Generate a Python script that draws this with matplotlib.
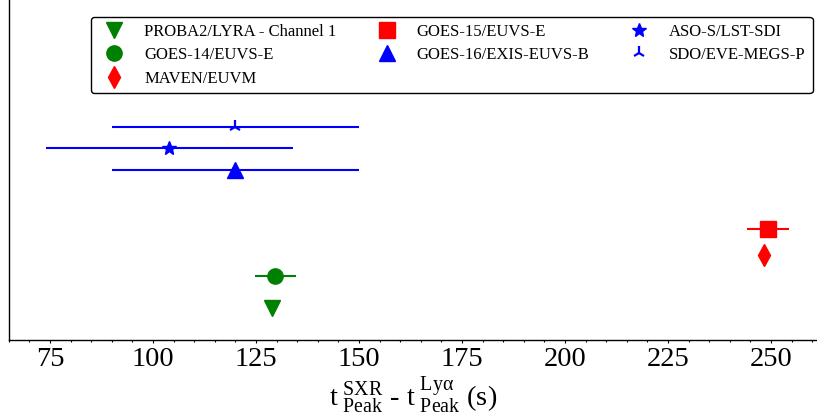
import matplotlib
matplotlib.use("Agg")
import matplotlib.pyplot as plt
from matplotlib.lines import Line2D
from matplotlib.ticker import MultipleLocator

plt.rcParams['font.family'] = ['Liberation Serif', 'DejaVu Serif']
plt.rcParams['mathtext.fontset'] = 'custom'
plt.rcParams['mathtext.rm'] = 'Liberation Serif'
plt.rcParams['mathtext.it'] = 'Liberation Serif:italic'
plt.rcParams['mathtext.bf'] = 'Liberation Serif:bold'

# Data
instruments = ["PROBA2/LYRA - Channel 1", "GOES-14/EUVS-E", "MAVEN/EUVM",
               "GOES-15/EUVS-E", "GOES-16/EXIS-EUVS-B", "ASO-S/LST-SDI",
               "SDO/EVE-MEGS-P"]
delay_s = [129, 129.7, 248.3, 249.3, 120, 104, 120]
delay_err = [0, 5, 0, 5, 30, 30, 30]
y_pos = [0.94, 1.88, 2.5, 3.26, 5.01, 5.64, 6.27]
colors = ["green", "green", "red", "red", "blue", "blue", "blue"]
markers = ["v", "o", "d", "s", "^", "*", "2"]

fig = plt.figure(figsize=(8.17, 4.18), dpi=100)
ax = fig.add_axes([8.5/817, 1-340/418, 1-8.5/817, 340/418])

handles = []
for name, x, xe, y, c, m in zip(instruments, delay_s, delay_err, y_pos, colors, markers):
    ms = {"*": 10, "2": 9.5}.get(m, 11)
    mew = 1.6 if m == "2" else 1.0
    if xe > 0:
        ax.errorbar([x], [y], xerr=[xe], fmt='none', ecolor=c, elinewidth=1.5, capsize=0)
    ax.plot([x], [y], linestyle='none', marker=m, color=c, markersize=ms, markeredgewidth=mew)
    handles.append(Line2D([], [], linestyle='none', marker=m, color=c, markersize=ms,
                          markeredgewidth=mew, label=name))

ax.set_xlim(64.93, 261.17)
ax.set_ylim(0, 10)
ax.xaxis.set_major_locator(MultipleLocator(25))
ax.xaxis.set_minor_locator(MultipleLocator(5))
ax.tick_params(axis='x', which='major', direction='out', length=2.5, width=0.8, labelsize=20.5, pad=2.5)
ax.tick_params(axis='x', which='minor', direction='out', length=1.5, width=0.8)
ax.set_yticks([])
ax.spines['top'].set_visible(False)
ax.spines['right'].set_visible(False)
for s in ('left', 'bottom'):
    ax.spines[s].set_linewidth(1.0)

ax.set_xlabel(r'$\mathrm{t\;^{SXR}_{Peak}}$ - $\mathrm{t\;^{Lyα}_{Peak}}$ (s)', fontsize=20.5, labelpad=2.5)

leg = fig.legend(handles=handles, ncol=3, loc='upper center', bbox_to_anchor=(0.553, 0.979),
                 fontsize=12, labelspacing=0.45, frameon=True, fancybox=True,
                 edgecolor='black', framealpha=1)
leg.get_frame().set_linewidth(1.0)

fig.savefig("out.png", dpi=100)
